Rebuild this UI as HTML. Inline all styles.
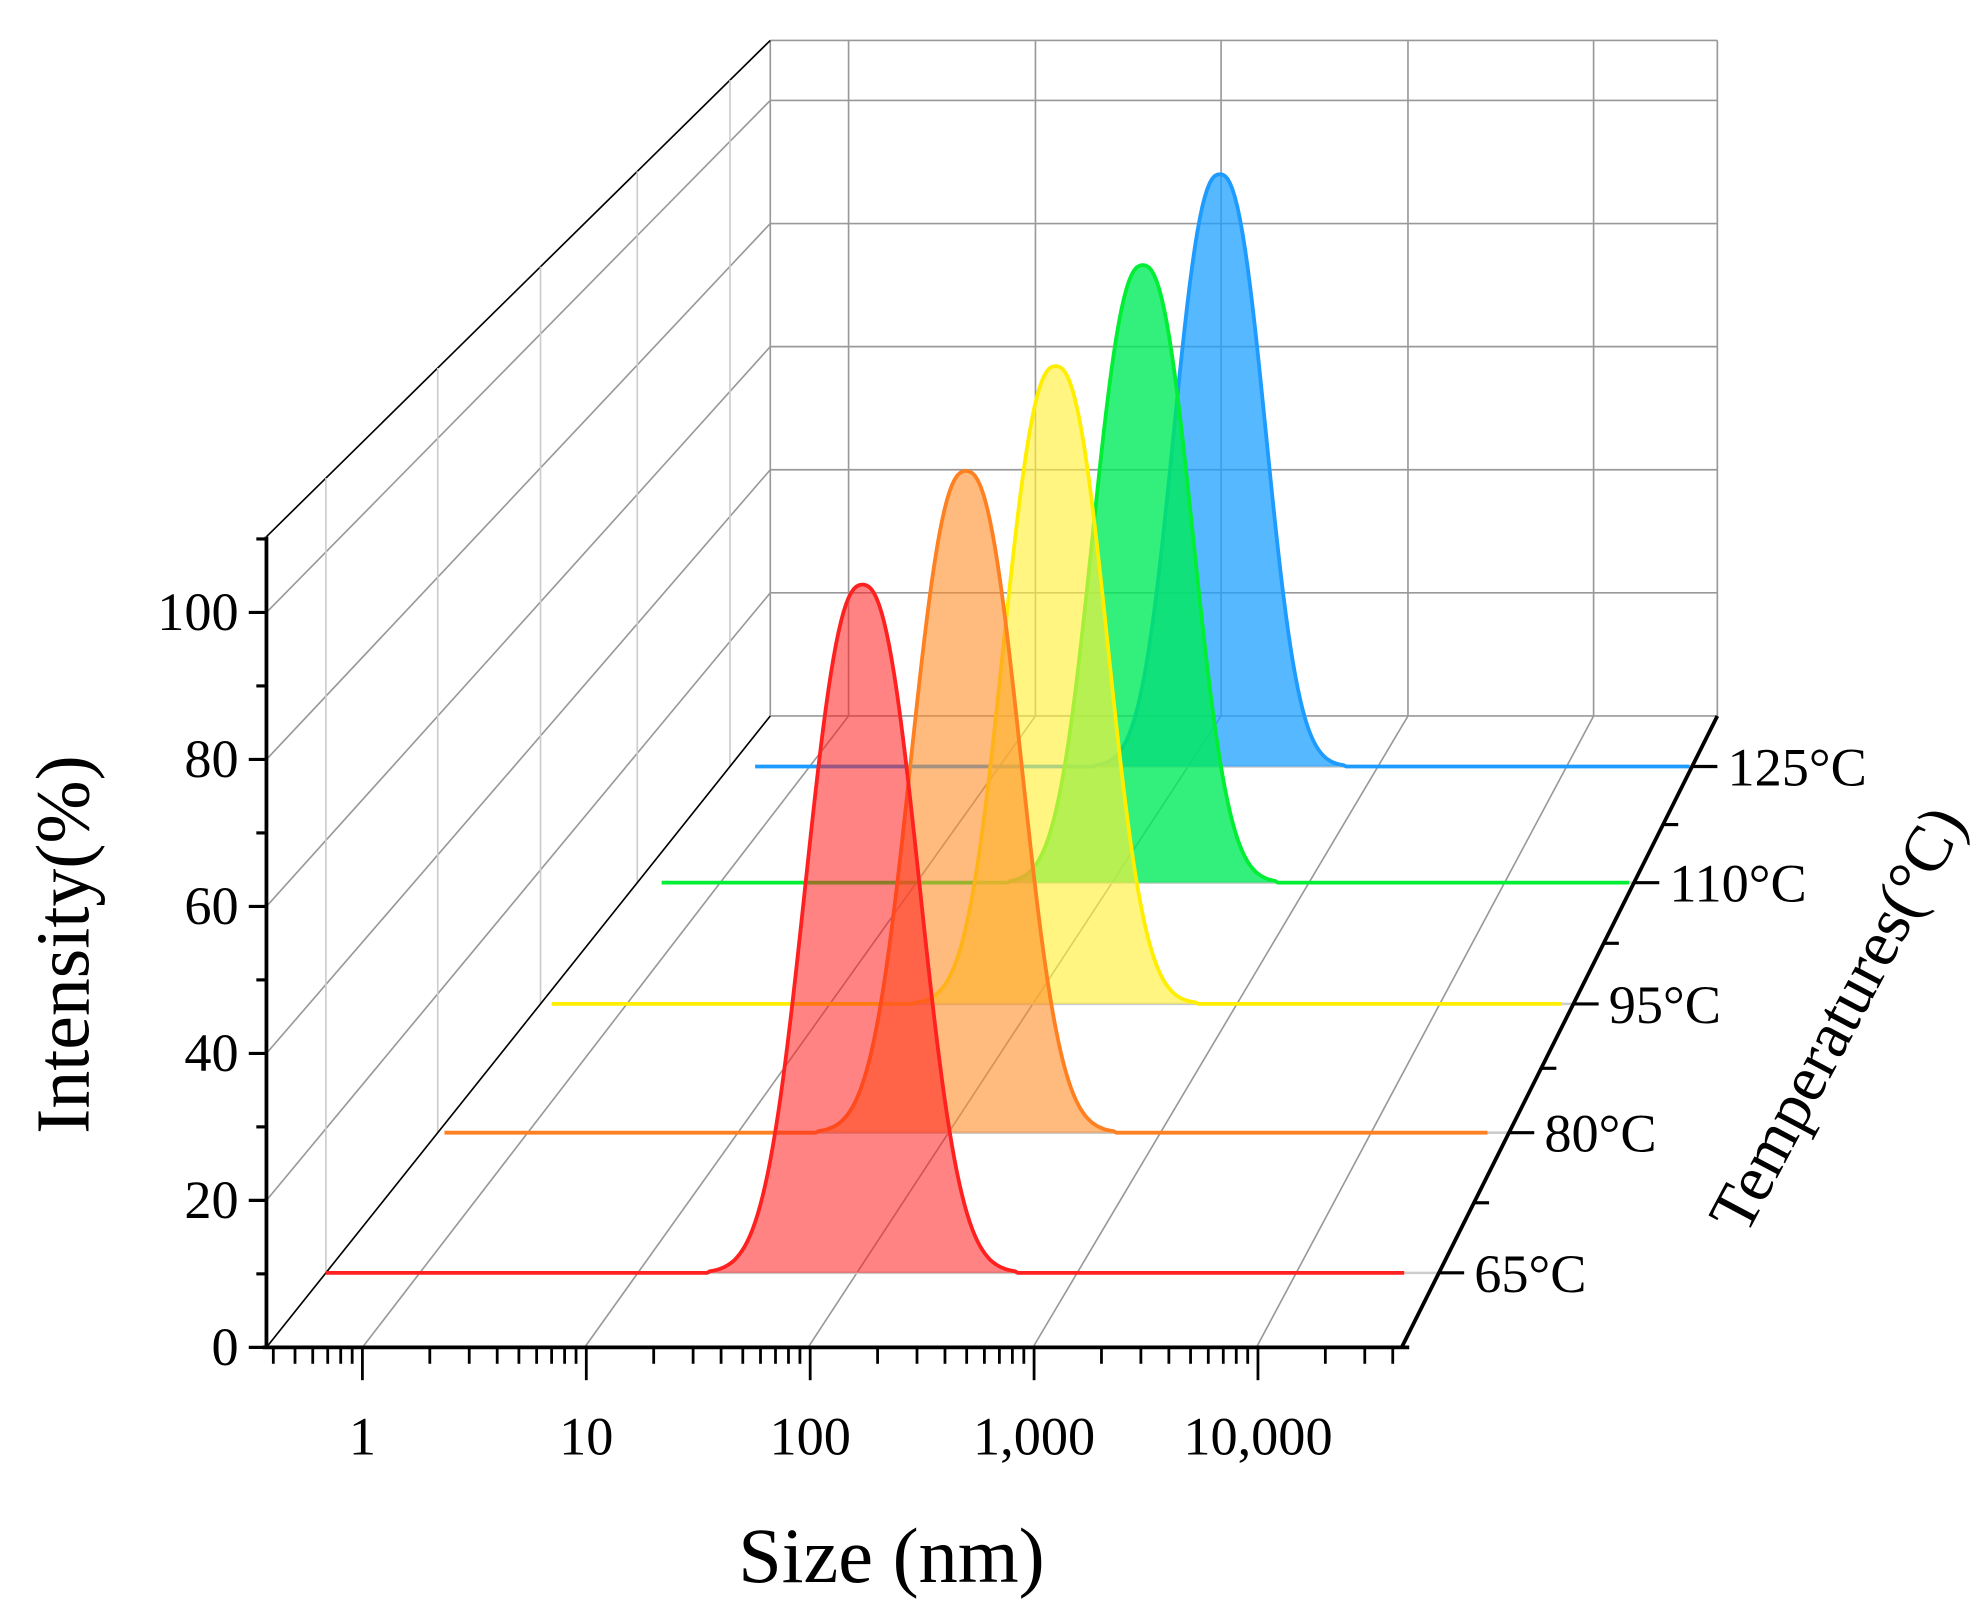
<!DOCTYPE html>
<html><head><meta charset="utf-8"><style>
html,body{margin:0;padding:0;background:#fff;}
svg{display:block;}
text{font-family:"Liberation Serif",serif;fill:#000;}
</style></head><body>
<svg id="s" width="1980" height="1621" viewBox="0 0 1568 1283.7" xmlns="http://www.w3.org/2000/svg">
<g id="grid" stroke="#999" stroke-width="1.3" fill="none"></g>
<g id="series"></g>
<g id="axes" stroke="#000" fill="none"></g>
<g id="labels" font-size="43"></g>
<text x="706" y="1253" font-size="62" text-anchor="middle">Size (nm)</text>
<text transform="translate(70,748) rotate(-90)" font-size="60" text-anchor="middle">Intensity(%)</text>
<text transform="translate(1470,815) rotate(-62)" font-size="52" text-anchor="middle">Temperatures(°C)</text>
</svg>
<script>
var NS="http://www.w3.org/2000/svg";
function el(p,t,a,txt){var e=document.createElementNS(NS,t);for(var k in a)e.setAttribute(k,a[k]);if(txt!==undefined)e.textContent=txt;document.getElementById(p).appendChild(e);return e;}
function ln(p,x1,y1,x2,y2,a){a=a||{};a.x1=x1;a.y1=y1;a.x2=x2;a.y2=y2;return el(p,'line',a);}
var FX0=211,FX1=1110,FY=1067,BX0=610,BX1=1360,BY=567;
function fy(v){return FY-v*5.82;} function by(v){return BY-v*4.875;}
ln('grid',BX0,32,BX1,32);
[20,40,60,80,100].forEach(function(v){ln('grid',BX0,by(v),BX1,by(v));});
ln('grid',BX0,BY,BX1,BY);
[610,672,820,967,1115,1262,1360].forEach(function(x){ln('grid',x,32,x,BY);});
[20,40,60,80,100].forEach(function(v){ln('grid',FX0,fy(v),BX0,by(v));});
ln('grid',FX0,425,BX0,32,{stroke:'#000'});
[0.118,0.34,0.544,0.736,0.92].forEach(function(d){var x=FX0+d*399;ln('grid',x,FY-d*500,x,425-d*393,{stroke:'#ccc'});});
ln('grid',FX0,FY,BX0,BY,{stroke:'#000'});
[287,463,640,818,995].forEach(function(x,i){var bx=[672,820,967,1115,1262][i];ln('grid',x,FY,bx,BY);});
var S=[
 {d:0.92,cx:966,h:469,w:46,x0:598,x1:1338,c:'#1e9bff',f:'rgba(30,160,255,0.75)'},
 {d:0.736,cx:905,h:489,w:50,x0:524,x1:1290,c:'#00ee33',f:'rgba(0,235,90,0.8)'},
 {d:0.544,cx:836,h:505,w:52,x0:437,x1:1238,c:'#ffee00',f:'rgba(255,240,60,0.65)'},
 {d:0.34,cx:765,h:524,w:55,x0:352,x1:1178,c:'#ff8020',f:'rgba(255,140,40,0.6)'},
 {d:0.118,cx:683,h:545,w:57,x0:258,x1:1112,c:'#ff2020',f:'rgba(255,30,30,0.55)'}];
S.forEach(function(o){
 var base=FY-o.d*500, ax=FX1+o.d*250;
 ln('series',o.x0,base,ax,base,{stroke:'#ccc','stroke-width':2});
 var pts=[];
 for(var x=o.x0;x<=o.x1;x+=2){var y=base-o.h*Math.exp(-Math.pow(Math.abs(x-o.cx)/o.w,2.4));if(base-y<1)y=base;pts.push(x.toFixed(1)+','+y.toFixed(1));}
 el('series','path',{d:'M'+pts.join(' L')+' Z',fill:o.f,stroke:'none'});
 el('series','polyline',{points:pts.join(' '),fill:'none',stroke:o.c,'stroke-width':3});
});
var A={stroke:'#000','stroke-width':3};
ln('axes',FX0,425,FX0,FY,A);
ln('axes',FX0-3,FY,FX1+6,FY,A);
ln('axes',FX1,FY,BX1,BY,A);
for(var v=0;v<=110;v+=10){var y=fy(v);ln('axes',FX0-(v%20==0?14:8),y,FX0,y,{stroke:'#000','stroke-width':2.5});
 if(v%20==0&&v<=100)el('labels','text',{x:FX0-22,y:y+14,'text-anchor':'end'},String(v));}
var dec=177.3,x1=287;
for(var e=-1;e<=4;e++){for(var m=1;m<10;m++){var x=x1+(e+Math.log10(m))*dec;if(x<FX0+3||x>FX1)continue;ln('axes',x,FY,x,FY+(m==1?26:13),{stroke:'#000','stroke-width':2.2});}}
['1','10','100','1,000','10,000'].forEach(function(t,i){el('labels','text',{x:x1+i*dec,y:1152,'text-anchor':'middle'},t);});
var T=['65°C','80°C','95°C','110°C','125°C'];
S.slice().reverse().forEach(function(o,i){var y=FY-o.d*500,x=FX1+o.d*250;ln('axes',x,y,x+20,y,{stroke:'#000','stroke-width':2.5});
 el('labels','text',{x:x+28,y:y+15},T[i]);});
[0.229,0.442,0.64,0.828].forEach(function(d){var y=FY-d*500,x=FX1+d*250;ln('axes',x,y,x+12,y,{stroke:'#000','stroke-width':2.5});});
</script>
</body></html>
